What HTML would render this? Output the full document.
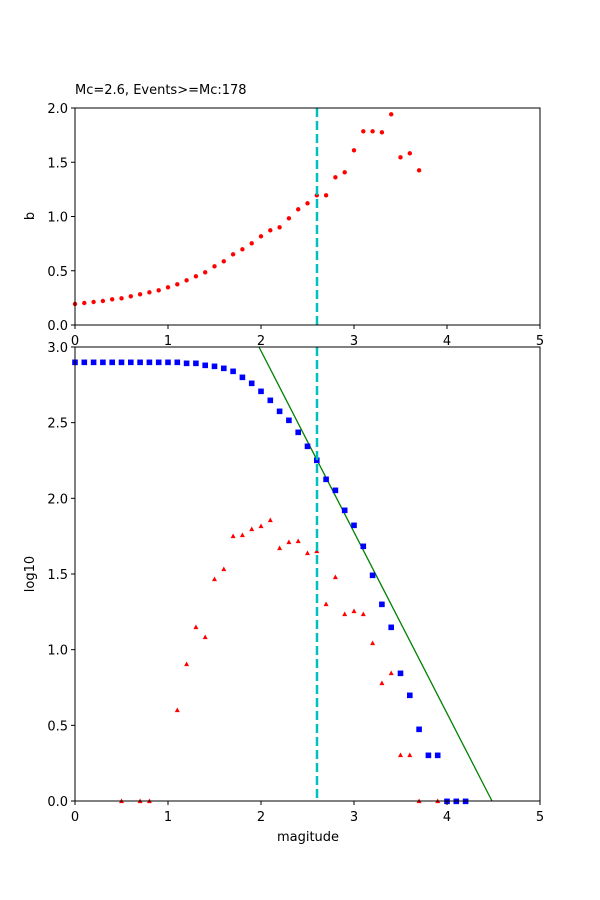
<!DOCTYPE html>
<html><head><meta charset="utf-8"><style>body{margin:0;background:#fff}svg{display:block}text{font-family:"DejaVu Sans","Liberation Sans",sans-serif;font-size:13px;fill:#000}</style></head>
<body>
<svg id="s" width="600" height="900" xmlns="http://www.w3.org/2000/svg">
<rect width="600" height="900" fill="#fff"/>
<g id="g"></g>
<text x="75" y="94">Mc=2.6, Events&gt;=Mc:178</text>
<text x="34" y="216" transform="rotate(-90 34 216)" text-anchor="middle">b</text>
<text x="34" y="574" transform="rotate(-90 34 574)" text-anchor="middle">log10</text>
<text x="308" y="841" text-anchor="middle">magitude</text>
</svg>
<script>
var g=document.getElementById('g'),h='';
function X(m){return 75+m*93;}
h+='<line x1="259" y1="347" x2="492" y2="801" stroke="#008000" stroke-width="1.3"/>';
var t=[612,609,606,603,598,595,589,583,577,571,562,553,541,529,517,499,484,463,448,430,409,391,382,355,328,310,286,286,232,217,151,94,94,97,43,172,160,211];
t.forEach(function(z,i){h+='<circle cx="'+X(i/10)+'" cy="'+(100+z/3)+'" r="2.2" fill="#f00"/>';});
var b=[67,67,67,67,67,67,67,67,67,67,67,67,70,70,76,79,85,94,112,130,154,181,214,241,277,319,361,418,451,511,556,619,706,793,862,1000,1066,1168,1246,1246,1384,1384,1384];
b.forEach(function(z,i){var x=X(i/10),y=340+z/3;h+='<rect x="'+(x-2.8)+'" y="'+(y-2.8)+'" width="5.6" height="5.6" fill="#00f"/>';});
var r=[[.5,1384],[.7,1384],[.8,1384],[1.1,1111],[1.2,973],[1.3,862],[1.4,892],[1.5,718],[1.6,688],[1.7,589],[1.8,586],[1.9,568],[2,559],[2.1,541],[2.2,625],[2.3,607],[2.4,604],[2.5,640],[2.6,634],[2.7,793],[2.8,712],[2.9,823],[3,814],[3.1,823],[3.2,910],[3.3,1030],[3.4,1000],[3.5,1246],[3.6,1246],[3.7,1384],[3.9,1384]];
r.forEach(function(p){var x=X(p[0]),y=340+p[1]/3;h+='<polygon points="'+x+','+(y-2.8)+' '+(x-2.5)+','+(y+1.8)+' '+(x+2.5)+','+(y+1.8)+'" fill="#f00"/>';});
h+='<line x1="317" y1="108" x2="317" y2="325" stroke="#00bfbf" stroke-width="2.5" stroke-dasharray="9,4"/>';
h+='<line x1="317" y1="347" x2="317" y2="801" stroke="#00bfbf" stroke-width="2.5" stroke-dasharray="9,4"/>';
h+='<rect x="75" y="108" width="465" height="217" fill="none" stroke="#000" stroke-width="1"/>';
h+='<rect x="75" y="347" width="465" height="454" fill="none" stroke="#000" stroke-width="1"/>';
for(var i=0;i<=5;i++){var x=X(i);
 h+='<line x1="'+x+'" y1="325" x2="'+x+'" y2="329" stroke="#000"/><text x="'+x+'" y="345" text-anchor="middle">'+i+'</text>';
 h+='<line x1="'+x+'" y1="801" x2="'+x+'" y2="805" stroke="#000"/><text x="'+x+'" y="821" text-anchor="middle">'+i+'</text>';}
for(var i=0;i<=4;i++){var y=325-i*54.25;
 h+='<line x1="71" y1="'+y+'" x2="75" y2="'+y+'" stroke="#000"/><text x="68" y="'+(y+5)+'" text-anchor="end">'+(i*0.5).toFixed(1)+'</text>';}
for(var i=0;i<=6;i++){var y=801-i*75.67;
 h+='<line x1="71" y1="'+y+'" x2="75" y2="'+y+'" stroke="#000"/><text x="68" y="'+(y+5)+'" text-anchor="end">'+(i*0.5).toFixed(1)+'</text>';}
g.innerHTML=h;
</script>
</body></html>
